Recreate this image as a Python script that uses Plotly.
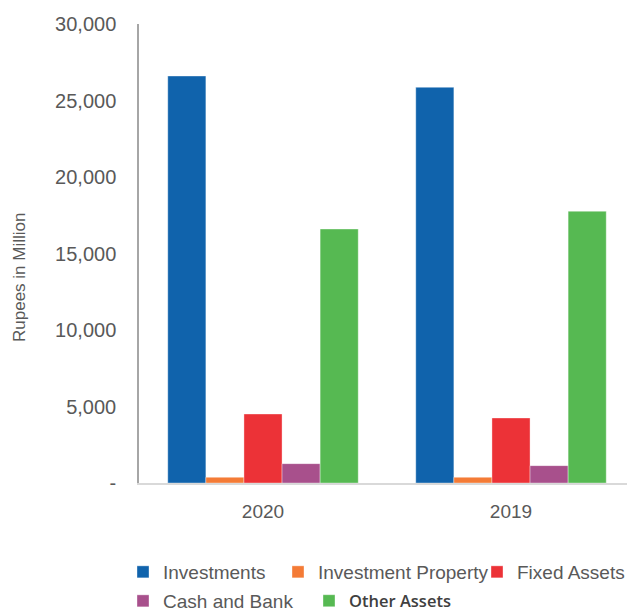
import plotly.graph_objects as go

categories = ["2020", "2019"]
series_names = ["Investments", "Investment Property", "Fixed Assets", "Cash and Bank", "Other Assets"]
investments = [26600, 25860]
investment_property = [370, 370]
fixed_assets = [4510, 4250]
cash_and_bank = [1265, 1135]
other_assets = [16600, 17760]
series_values = [investments, investment_property, fixed_assets, cash_and_bank, other_assets]
colors = ["#1063AC", "#F47B36", "#EC3237", "#A8508C", "#56B952"]
y_tickvals = [0, 5000, 10000, 15000, 20000, 25000, 30000]
y_ticktext = ["-", "5,000", "10,000", "15,000", "20,000", "25,000", "30,000"]

# page is rendered with an 8px body margin; figure coords = page coords - 8
OFF = 8
W, H = 635, 612
# legend symbol left x and row centre y, in page pixels
legend_pos = [(137, 572), (292, 572), (491, 572), (137, 601), (323, 601)]
legend_ids = ["legend", "legend2", "legend3", "legend4", "legend5"]

base_font = dict(family="Liberation Sans, Arial, sans-serif", size=19, color="#595959")

fig = go.Figure()
for name, vals, col, lid in zip(series_names, series_values, colors, legend_ids):
    fig.add_trace(go.Bar(
        name=name, x=categories, y=vals,
        marker=dict(color=col, line=dict(color="rgba(255,255,255,0.6)", width=0.6)),
        legend=lid,
    ))

layout_legends = {}
for i, (lid, (px, py)) in enumerate(zip(legend_ids, legend_pos)):
    font = dict(base_font)
    if i == 4:
        font = dict(family="Open Sans, sans-serif", size=16.5, color="#404040", weight=600)
    layout_legends[lid] = dict(
        x=(px - 14 - OFF) / W, y=1 - (py - OFF) / H, xref="container", yref="container",
        xanchor="left", yanchor="middle", bgcolor="rgba(0,0,0,0)",
        borderwidth=0, font=font, itemwidth=30, tracegroupgap=0,
    )

ml, mr, mt = 139 - OFF, 8, 24 - OFF
mb = H - (483 - OFF)
plot_w = W - ml - mr
plot_h = H - mt - mb

fig.update_layout(
    width=W, height=H,
    margin=dict(l=ml, r=mr, t=mt, b=mb, autoexpand=False),
    paper_bgcolor="white", plot_bgcolor="white",
    barmode="group", bargap=0.232, bargroupgap=0,
    font=base_font,
    showlegend=True,
    **layout_legends,
)
fig.update_yaxes(
    range=[0, 30000], tickvals=y_tickvals, ticktext=y_ticktext,
    showgrid=False, zeroline=False,
    showline=True, linecolor="#A6A6A6", linewidth=1.5,
    ticks="", ticklabelstandoff=17, tickfont=dict(size=20),
    automargin=False,
)
fig.update_xaxes(
    showgrid=False, showline=True, linecolor="#D9D9D9", linewidth=2,
    ticks="", ticklabelstandoff=10, automargin=False,
)
fig.add_annotation(
    text="Rupees in Million", textangle=-90, showarrow=False,
    xref="paper", yref="paper",
    x=(19 - OFF - ml) / plot_w, y=((483 - OFF) - (278 - OFF)) / plot_h,
    xanchor="center", yanchor="middle",
    font=dict(size=17, color="#595959"),
)

fig.write_html("out.html")
